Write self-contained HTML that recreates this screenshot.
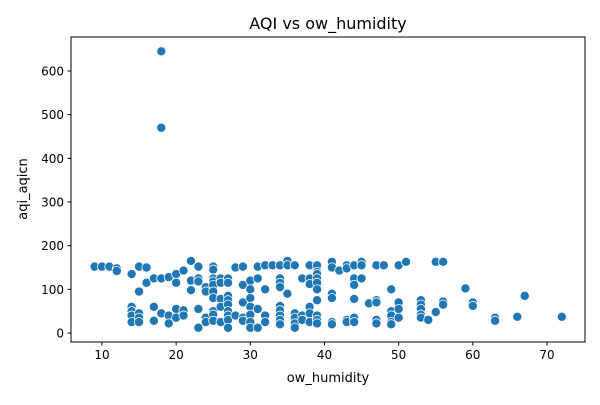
<!DOCTYPE html>
<html><head><meta charset="utf-8"><style>
body{margin:0;background:#fff;font-family:"Liberation Sans","DejaVu Sans",sans-serif;}
svg text{font-family:"DejaVu Sans","Liberation Sans",sans-serif;}
</style></head><body>
<svg id="chart" width="600" height="400">
<rect x="0" y="0" width="600" height="400" fill="#fff"/>
<text x="328" y="29" text-anchor="middle" font-size="16">AQI vs ow_humidity</text>
<g id="marks"></g>
<rect x="71" y="37" width="514" height="305" fill="none" stroke="#000" stroke-width="1"/>
<g id="axes"></g>
<text x="328" y="382" text-anchor="middle" font-size="13">ow_humidity</text>
<text x="27" y="189" text-anchor="middle" font-size="13" transform="rotate(-90 27 189)">aqi_aqicn</text>
</svg>
<script>
const xTicks=[10,20,30,40,50,60,70];
const yTicks=[0,100,200,300,400,500,600];
const humidity=[9,10,11,12,12,14,14,14,14,14,15,15,15,15,15,16,16,17,17,17,18,18,18,18,19,19,19,20,20,20,20,21,21,21,22,22,22,23,23,23,23,23,24,24,24,24,25,25,25,25,25,25,25,25,25,25,26,26,26,26,26,27,27,27,27,27,27,27,27,27,28,28,29,29,29,29,29,30,30,30,30,30,30,30,31,31,31,31,32,32,32,32,33,34,34,34,34,34,34,34,34,34,35,35,35,36,36,36,36,36,37,37,37,38,38,38,38,38,38,39,39,39,39,39,39,39,39,39,39,41,41,41,41,41,41,42,43,43,43,43,44,44,44,44,44,44,45,45,45,46,47,47,47,47,47,48,49,49,49,49,49,50,50,50,50,51,53,53,53,53,53,54,55,55,56,56,56,59,60,60,63,63,66,67,72];
const aqi=[152,152,152,148,142,135,60,50,40,25,152,95,45,35,25,150,115,125,60,28,645,470,125,45,128,40,22,135,115,55,35,143,52,40,165,120,98,152,125,118,55,12,105,95,35,25,152,145,125,118,110,95,80,50,42,28,125,115,78,60,25,125,115,85,75,65,50,40,30,12,150,40,152,110,70,35,28,120,100,80,60,42,25,12,152,125,55,12,155,100,40,25,155,155,125,115,105,62,52,40,30,20,165,155,90,155,45,35,22,12,125,40,30,155,125,112,60,45,25,155,140,135,125,115,100,75,40,30,22,163,150,90,80,25,20,143,155,148,30,25,155,125,110,78,35,25,163,155,125,68,155,75,70,30,22,155,100,50,40,25,20,155,70,55,35,163,75,65,55,42,35,30,163,48,163,72,65,102,70,62,35,28,37,85,37];
const X=v=>27.8+7.417*v;
const Y=v=>333-0.4367*v;
const NS="http://www.w3.org/2000/svg";
const marks=document.getElementById('marks');
for(let i=0;i<humidity.length;i++){
 const c=document.createElementNS(NS,'circle');
 c.setAttribute('cx',X(humidity[i]));c.setAttribute('cy',Y(aqi[i]));c.setAttribute('r',4.6);
 c.setAttribute('fill','#1f77b4');c.setAttribute('stroke','#fff');c.setAttribute('stroke-width',0.8);
 
 
 marks.appendChild(c);
}
const axes=document.getElementById('axes');
xTicks.forEach(t=>{
 const l=document.createElementNS(NS,'line');
 l.setAttribute('x1',X(t));l.setAttribute('x2',X(t));l.setAttribute('y1',342);l.setAttribute('y2',345.5);l.setAttribute('stroke','#000');
 
 
 axes.appendChild(l);
 const tx=document.createElementNS(NS,'text');
 tx.setAttribute('x',X(t));tx.setAttribute('y',359);tx.setAttribute('text-anchor','middle');tx.setAttribute('font-size','12');
 tx.textContent=t;
 
 
 axes.appendChild(tx);
});
yTicks.forEach(t=>{
 const l=document.createElementNS(NS,'line');
 l.setAttribute('x1',67.5);l.setAttribute('x2',71);l.setAttribute('y1',Y(t));l.setAttribute('y2',Y(t));l.setAttribute('stroke','#000');
 
 
 axes.appendChild(l);
 const tx=document.createElementNS(NS,'text');
 tx.setAttribute('x',64);tx.setAttribute('y',Y(t)+4.5);tx.setAttribute('text-anchor','end');tx.setAttribute('font-size','12');
 tx.textContent=t;
 
 
 axes.appendChild(tx);
});
</script>
</body></html>
